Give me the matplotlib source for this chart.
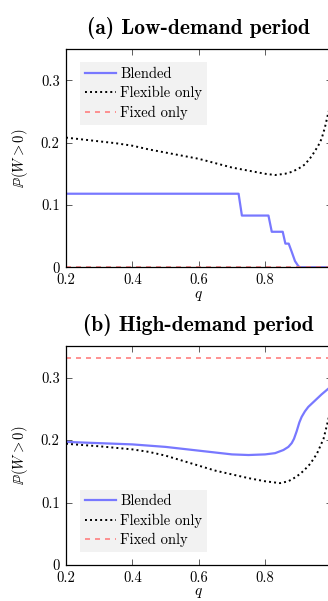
import numpy as np
import matplotlib
matplotlib.use('Agg')
import matplotlib.pyplot as plt
from matplotlib.ticker import FuncFormatter

plt.rcParams['font.family'] = ['cmr10', 'DejaVu Serif']
plt.rcParams['mathtext.fontset'] = 'cm'
plt.rcParams['axes.formatter.use_mathtext'] = True

# (a) low-demand period
q_blend_low = [0.2, 0.72, 0.73, 0.81, 0.82, 0.853, 0.861, 0.871, 0.88, 0.89, 0.9, 0.905, 1.0]
blend_low = [0.118, 0.118, 0.083, 0.083, 0.057, 0.057, 0.038, 0.038, 0.025, 0.01, 0.002, 0.0, 0.0]
q_flex_low = [0.2, 0.25, 0.3, 0.35, 0.4, 0.45, 0.5, 0.55, 0.6, 0.65, 0.7, 0.75, 0.8, 0.83,
              0.86, 0.88, 0.9, 0.92, 0.94, 0.96, 0.97, 0.98, 0.99, 1.0]
flex_low = [0.208, 0.205, 0.202, 0.199, 0.195, 0.189, 0.184, 0.179, 0.174, 0.167, 0.160, 0.155,
            0.150, 0.148, 0.150, 0.153, 0.158, 0.165, 0.178, 0.195, 0.206, 0.224, 0.247, 0.265]
q_fixed = [0.2, 1.0]
fixed_low = [0.0, 0.0]

# (b) high-demand period
q_blend_high = [0.2, 0.3, 0.4, 0.5, 0.6, 0.65, 0.7, 0.75, 0.8, 0.83, 0.855, 0.87, 0.88, 0.887,
                0.895, 0.903, 0.91, 0.92, 0.93, 0.95, 0.97, 0.99, 1.0]
blend_high = [0.197, 0.195, 0.193, 0.189, 0.183, 0.180, 0.177, 0.176, 0.177, 0.179, 0.184, 0.189,
              0.195, 0.202, 0.214, 0.228, 0.237, 0.246, 0.253, 0.263, 0.273, 0.282, 0.286]
q_flex_high = [0.2, 0.3, 0.4, 0.45, 0.5, 0.55, 0.6, 0.65, 0.7, 0.75, 0.8, 0.845, 0.87, 0.89,
               0.906, 0.92, 0.936, 0.956, 0.976, 0.99, 1.0]
flex_high = [0.194, 0.190, 0.185, 0.181, 0.175, 0.167, 0.159, 0.151, 0.145, 0.139, 0.134, 0.131,
             0.134, 0.140, 0.146, 0.153, 0.162, 0.178, 0.202, 0.232, 0.255]
fixed_high = [0.331, 0.331]

titles = ['(a) Low-demand period', '(b) High-demand period']
xticks = [0.2, 0.4, 0.6, 0.8]
yticks = [0, 0.1, 0.2, 0.3]

blue = '#7878ff'
red = '#ff7f7f'

fig = plt.figure(figsize=(3.28, 6.01), dpi=100)
ax1 = fig.add_axes([0.2012, 0.5552, 0.8095, 0.3632])
ax2 = fig.add_axes([0.2012, 0.0599, 0.8095, 0.3639])

panels = [
    (ax1, q_blend_low, blend_low, q_flex_low, flex_low, fixed_low, (0.053, 0.94), 'upper left'),
    (ax2, q_blend_high, blend_high, q_flex_high, flex_high, fixed_high, (0.053, 0.059), 'lower left'),
]

fmt = FuncFormatter(lambda v, p: '%g' % v)

for i, (ax, qb, yb, qf, yf, yx, anchor, loc) in enumerate(panels):
    ax.plot(qb, yb, color=blue, lw=1.6, label='Blended')
    ax.plot(qf, yf, color='black', lw=1.4, linestyle=(0, (1, 1.6)), label='Flexible only')
    ax.plot(q_fixed, yx, color=red, lw=1.2, linestyle=(0, (3, 3)), label='Fixed only')
    ax.set_xlim(0.2, 1.0)
    ax.set_ylim(0, 0.35)
    ax.set_xticks(xticks)
    ax.set_yticks(yticks)
    ax.xaxis.set_major_formatter(fmt)
    ax.yaxis.set_major_formatter(fmt)
    ax.tick_params(direction='in', top=True, right=True, length=4, width=0.6,
                   color='#444444', labelsize=10.5, pad=4.5)
    for s in ax.spines.values():
        s.set_linewidth(0.9)
    ax.set_xlabel(r'$q$', fontsize=11, labelpad=1)
    ax.set_ylabel(r'$\mathbb{P}(W>0)$', fontsize=10.5, labelpad=8)
    ax.set_title(titles[i], fontsize=15.5, family='cmb10', pad=11)
    leg = ax.legend(loc=loc, bbox_to_anchor=anchor, fontsize=10.5, frameon=True,
                    fancybox=False, handlelength=2.1, handletextpad=0.3,
                    labelspacing=0.35, borderpad=0.35, borderaxespad=0)
    leg.get_frame().set_facecolor('#f2f2f2')
    leg.get_frame().set_edgecolor('none')
    leg.get_frame().set_alpha(1)

fig.savefig('out.png', dpi=100)
